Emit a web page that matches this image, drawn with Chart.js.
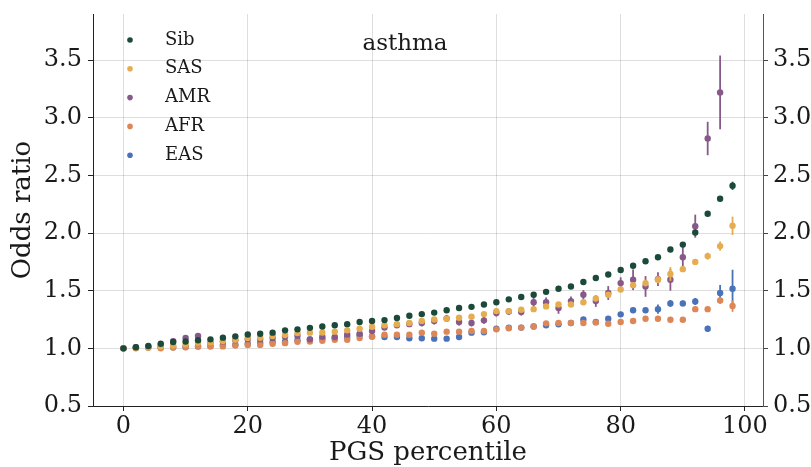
<!DOCTYPE html>
<html>
<head>
<meta charset="utf-8">
<script src="https://cdn.jsdelivr.net/npm/chart.js@4.4.1/dist/chart.umd.min.js"></script>
<style>
  html, body { margin: 0; padding: 0; background: #fff; overflow: hidden; }
  #wrap { width: 850px; height: 467px; }
</style>
</head>
<body>
<div id="wrap"><canvas id="myChart"></canvas></div>
<script>
const chartTitle = 'asthma';
const xTicks = [0, 20, 40, 60, 80, 100];
const yTicks = [0.5, 1.0, 1.5, 2.0, 2.5, 3.0, 3.5];

const percentile = [0, 2, 4, 6, 8, 10, 12, 14, 16, 18, 20, 22, 24, 26, 28, 30, 32, 34, 36, 38,
    40, 42, 44, 46, 48, 50, 52, 54, 56, 58, 60, 62, 64, 66, 68, 70, 72, 74, 76, 78,
    80, 82, 84, 86, 88, 90, 92, 94, 96, 98];

const sib = [1.00, 1.01, 1.02, 1.04, 1.055, 1.06, 1.07, 1.078, 1.093, 1.104,
    1.12, 1.127, 1.136, 1.156, 1.165, 1.178, 1.19, 1.20, 1.21, 1.228,
    1.237, 1.245, 1.263, 1.283, 1.297, 1.31, 1.33, 1.35, 1.36, 1.38,
    1.40, 1.425, 1.445, 1.465, 1.49, 1.517, 1.537, 1.575, 1.61, 1.64,
    1.68, 1.717, 1.755, 1.79, 1.857, 1.90, 2.005, 2.167, 2.297, 2.41];
const sas = [1.00, 1.005, 1.01, 1.017, 1.025, 1.035, 1.05, 1.05, 1.063, 1.075,
    1.09, 1.092, 1.107, 1.115, 1.133, 1.136, 1.138, 1.145, 1.156, 1.17,
    1.188, 1.20, 1.21, 1.22, 1.237, 1.25, 1.257, 1.266, 1.275, 1.297,
    1.323, 1.323, 1.335, 1.34, 1.364, 1.38, 1.38, 1.40, 1.433, 1.465,
    1.51, 1.548, 1.566, 1.595, 1.645, 1.687, 1.75, 1.80, 1.887, 2.063];
const amr = [1.00, 1.01, 1.015, 1.03, 1.063, 1.09, 1.107, 1.05, 1.06, 1.07,
    1.08, 1.08, 1.09, 1.10, 1.11, 1.078, 1.10, 1.098, 1.12, 1.127,
    1.15, 1.18, 1.20, 1.21, 1.22, 1.237, 1.26, 1.228, 1.22, 1.243,
    1.306, 1.32, 1.315, 1.40, 1.40, 1.35, 1.41, 1.465, 1.41, 1.48,
    1.566, 1.595, 1.537, 1.60, 1.595, 1.79, 2.06, 2.82, 3.22, null];
const afr = [1.00, 1.00, 1.005, 1.00, 1.008, 1.01, 1.015, 1.015, 1.017, 1.025,
    1.03, 1.03, 1.04, 1.045, 1.057, 1.06, 1.065, 1.075, 1.075, 1.09,
    1.10, 1.118, 1.118, 1.118, 1.136, 1.127, 1.145, 1.145, 1.15, 1.15,
    1.165, 1.175, 1.18, 1.19, 1.217, 1.22, 1.22, 1.22, 1.225, 1.214,
    1.228, 1.237, 1.257, 1.257, 1.248, 1.248, 1.34, 1.34, 1.416, 1.367];
const eas = [1.00, 1.005, 1.01, 1.01, 1.01, 1.012, 1.017, 1.02, 1.03, 1.032,
    1.04, 1.047, 1.055, 1.058, 1.07, 1.078, 1.084, 1.09, 1.098, 1.113,
    1.104, 1.098, 1.098, 1.087, 1.087, 1.084, 1.084, 1.098, 1.136, 1.14,
    1.17, 1.18, 1.18, 1.19, 1.20, 1.208, 1.22, 1.25, 1.228, 1.257,
    1.295, 1.33, 1.33, 1.34, 1.39, 1.39, 1.407, 1.17, 1.48, 1.517];

// half-widths of the error bars
const sibErr = [0, 0, 0, 0, 0, 0, 0, 0, 0, 0, 0, 0, 0, 0, 0, 0, 0, 0, 0, 0,
    0, 0, 0, 0, 0, 0, 0, 0, 0, 0, 0, 0, 0, 0, 0, 0, 0, 0, 0, 0,
    0, 0, 0, 0, 0, 0, 0.01, 0.01, 0.01, 0.035];
const sasErr = [0, 0, 0, 0, 0, 0, 0, 0, 0, 0, 0, 0, 0, 0, 0, 0, 0, 0, 0, 0,
    0, 0, 0, 0, 0, 0, 0, 0, 0, 0, 0, 0, 0, 0, 0, 0, 0, 0, 0.02, 0.02,
    0.02, 0.02, 0.03, 0.03, 0.06, 0.02, 0.015, 0.03, 0.04, 0.08];
const amrErr = [0, 0, 0, 0, 0.01, 0.015, 0.015, 0, 0, 0, 0, 0, 0, 0, 0, 0.02, 0.02, 0.02, 0.02, 0.02,
    0.02, 0.02, 0.02, 0.02, 0.03, 0.03, 0.03, 0.03, 0.03, 0.03, 0.03, 0.03, 0.03, 0.04, 0.04, 0.05, 0.04, 0.04, 0.05, 0.06,
    0.05, 0.09, 0.09, 0.06, 0.095, 0.09, 0.1, 0.145, 0.32, 0];
const afrErr = [0, 0, 0, 0, 0, 0, 0, 0, 0, 0, 0, 0, 0, 0, 0, 0, 0, 0, 0, 0,
    0, 0, 0, 0, 0, 0, 0, 0, 0, 0, 0, 0, 0, 0, 0, 0, 0, 0, 0, 0,
    0, 0, 0.01, 0.01, 0, 0, 0.01, 0.01, 0.03, 0.05];
const easErr = [0, 0, 0, 0, 0, 0, 0, 0, 0, 0, 0, 0, 0, 0, 0, 0, 0, 0, 0, 0,
    0, 0, 0, 0, 0, 0, 0, 0, 0, 0, 0, 0, 0, 0, 0, 0, 0, 0.02, 0, 0,
    0, 0, 0, 0.04, 0.03, 0.025, 0.03, 0.025, 0.07, 0.165];

const seriesNames = ['Sib', 'SAS', 'AMR', 'AFR', 'EAS'];
const seriesValues = [sib, sas, amr, afr, eas];
const seriesErrors = [sibErr, sasErr, amrErr, afrErr, easErr];
const seriesColors = ['#1b4a3a', '#e6ad50', '#87598a', '#dd8757', '#4a72b8'];

const serif = '"DejaVu Serif", serif';

function toPoints(vals) {
    const pts = [];
    vals.forEach((v, i) => {
        if (v !== null) pts.push({ x: percentile[i], y: v });
    });
    return pts;
}

// vertical error bars, drawn just before each dataset's points
const errorBars = {
    id: 'errorBars',
    beforeDatasetDraw(chart, args) {
        const ctx = chart.ctx;
        const xs = chart.scales.x;
        const ys = chart.scales.y;
        const i = args.index;
        const vals = seriesValues[i];
        const errs = seriesErrors[i];
        ctx.save();
        ctx.strokeStyle = seriesColors[i];
        ctx.lineWidth = 1.8;
        vals.forEach((v, j) => {
            if (v === null || !errs[j]) return;
            const px = xs.getPixelForValue(percentile[j]);
            ctx.beginPath();
            ctx.moveTo(px, ys.getPixelForValue(v - errs[j]));
            ctx.lineTo(px, ys.getPixelForValue(v + errs[j]));
            ctx.stroke();
        });
        ctx.restore();
    }
};

// legend in the upper left corner and the title in the plot
const insideText = {
    id: 'insideText',
    afterDraw(chart) {
        const ctx = chart.ctx;
        ctx.save();
        ctx.textBaseline = 'middle';
        ctx.font = '18px ' + serif;
        seriesNames.forEach((name, i) => {
            const yy = 40 + i * 28.8;
            ctx.fillStyle = seriesColors[i];
            ctx.beginPath();
            ctx.arc(130, yy, 2.8, 0, Math.PI * 2);
            ctx.fill();
            ctx.fillStyle = '#1a1a1a';
            ctx.fillText(name, 165, yy);
        });
        ctx.font = '23px ' + serif;
        ctx.textAlign = 'center';
        ctx.fillText(chartTitle, 405, 44);
        ctx.restore();
    }
};

function fitY(width) {
    return axis => {
        axis.width = width;
        axis.paddingTop = 0;
        axis.paddingBottom = 0;
    };
}

const ctx = document.getElementById('myChart').getContext('2d');
const myChart = new Chart(ctx, {
    type: 'scatter',
    data: {
        datasets: seriesNames.map((name, i) => ({
            label: name,
            data: toPoints(seriesValues[i]),
            backgroundColor: seriesColors[i],
            borderWidth: 0,
            pointRadius: 3.2
        }))
    },
    options: {
        responsive: true,
        maintainAspectRatio: false,
        animation: false,
        events: [],
        layout: { padding: { top: 14, left: 0, right: 0, bottom: 0 } },
        plugins: { legend: { display: false }, tooltip: { enabled: false } },
        scales: {
            x: {
                type: 'linear',
                min: -4.9,
                max: 102.9,
                afterBuildTicks: axis => { axis.ticks = xTicks.map(v => ({ value: v })); },
                afterFit: axis => { axis.height = 61; },
                grid: { color: 'rgba(0,0,0,0.13)', tickColor: '#222', tickLength: 5 },
                border: { color: '#222', width: 1 },
                ticks: { color: '#1a1a1a', font: { family: serif, size: 24 }, padding: 1, maxRotation: 0 },
                title: { display: true, text: 'PGS percentile', color: '#1a1a1a', font: { family: serif, size: 26 }, padding: { top: 0, bottom: -2 } }
            },
            y: {
                type: 'linear',
                position: 'left',
                min: 0.5,
                max: 3.9,
                afterBuildTicks: axis => { axis.ticks = yTicks.map(v => ({ value: v })); },
                afterFit: fitY(93),
                grid: { color: 'rgba(0,0,0,0.13)', tickColor: '#222', tickLength: 5 },
                border: { color: '#222', width: 1 },
                ticks: { color: '#1a1a1a', font: { family: serif, size: 24 }, padding: 6, callback: v => v.toFixed(1) },
                title: { display: true, text: 'Odds ratio', color: '#1a1a1a', font: { family: serif, size: 26 }, padding: { top: 8, bottom: 0 } }
            },
            y2: {
                type: 'linear',
                position: 'right',
                min: 0.5,
                max: 3.9,
                afterBuildTicks: axis => { axis.ticks = yTicks.map(v => ({ value: v })); },
                afterFit: fitY(87),
                grid: { drawOnChartArea: false, tickColor: '#444', tickLength: 5 },
                border: { color: '#555', width: 1 },
                ticks: { color: '#1a1a1a', font: { family: serif, size: 24 }, padding: 5, callback: v => v.toFixed(1) }
            }
        }
    },
    plugins: [errorBars, insideText]
});
</script>
</body>
</html>
